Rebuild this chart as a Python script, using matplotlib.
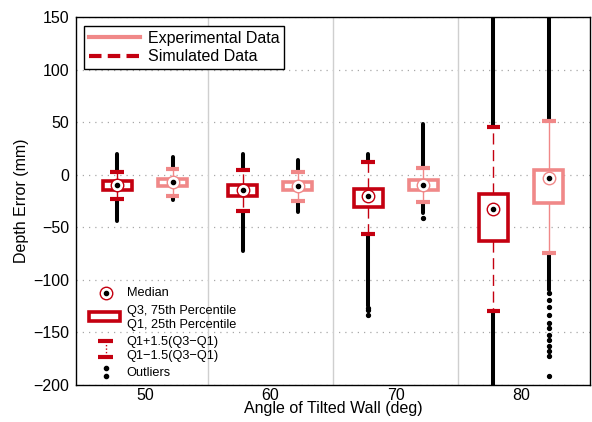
import matplotlib.pyplot as plt
from matplotlib.lines import Line2D
from matplotlib.patches import Rectangle

plt.rcParams['font.family'] = ['Liberation Sans', 'DejaVu Sans']

angles = [50, 60, 70, 80]

# simulated data box statistics (mm)
sim_med = [-10.2, -14.9, -20.6, -32.4]
sim_q1 = [-14.3, -20.6, -31.1, -63.5]
sim_q3 = [-6.4, -10.2, -13.3, -18.4]
sim_whislo = [-22.8, -34.9, -56.4, -129.4]
sim_whishi = [2.6, 4.1, 11.7, 45.7]
# dense outlier runs (end values) and isolated outliers
sim_out_top = [20, 20, 20, 150]
sim_out_bot = [-44, -73, -125, -200]
sim_fliers = [[], [], [-127, -129, -133], []]

# experimental data box statistics (mm)
exp_med = [-7.0, -11.0, -10.2, -3.1]
exp_q1 = [-10.5, -15.0, -14.3, -27.0]
exp_q3 = [-3.8, -7.0, -4.8, 4.1]
exp_whislo = [-20.0, -24.7, -26.0, -74.5]
exp_whishi = [5.7, 2.6, 6.4, 50.7]
exp_out_top = [17, 14, 48, 150]
exp_out_bot = [-24.5, -35, -36.5, -110]
exp_fliers = [[], [], [-41], [-112.6, -119, -126, -133, -141, -146, -152,
                              -157, -163, -168, -172, -191]]

sim_color = '#c40010'
exp_color = '#f08888'

fig = plt.figure(figsize=(5.92, 4.22), dpi=100)
ax = fig.add_axes([0.1284, 0.0877, 0.8682, 0.872])

ax.set_xlim(44.5, 85.5)
ax.set_ylim(-200, 150)
ax.set_yticks(range(-200, 151, 50))
ax.set_xticks(angles)

for y in range(-200, 151, 50):
    ax.axhline(y, color='#a8a8a8', lw=0.9, ls=(0, (1, 4)), zorder=0)
for xs in [55, 65, 75]:
    ax.axvline(xs, color='#cfcfcf', lw=1.0, zorder=0)


def draw_group(pos, med, q1, q3, lo, hi, out_top, out_bot, fliers, color, ls):
    stats = []
    for i in range(len(pos)):
        stats.append(dict(med=med[i], q1=q1[i], q3=q3[i], whislo=lo[i],
                          whishi=hi[i], fliers=fliers[i]))
    # dense outlier runs
    ax.vlines(pos, hi, out_top, color='black', lw=2.9, zorder=2,
              capstyle='round')
    ax.vlines(pos, out_bot, lo, color='black', lw=2.9, zorder=2,
              capstyle='round')
    ax.bxp(stats, positions=pos, widths=2.3, patch_artist=True,
           showfliers=True, manage_ticks=False, capwidths=1.1,
           boxprops=dict(facecolor='white', edgecolor=color, lw=2.6),
           whiskerprops=dict(color=color, lw=1.0, ls=ls),
           capprops=dict(color=color, lw=3.0, solid_capstyle='butt'),
           medianprops=dict(lw=0),
           flierprops=dict(marker='o', markersize=2.8, markerfacecolor='black',
                           markeredgecolor='black'),
           zorder=3)
    ax.plot(pos, med, 'o', ms=9, mfc='white', mec=color, mew=1.0, zorder=5)
    ax.plot(pos, med, 'o', ms=3, color='black', zorder=6)


sim_pos = [a - 2.2 for a in angles]
exp_pos = [a + 2.2 for a in angles]
draw_group(sim_pos, sim_med, sim_q1, sim_q3, sim_whislo, sim_whishi,
           sim_out_top, sim_out_bot, sim_fliers, sim_color, (0, (8, 4)))
draw_group(exp_pos, exp_med, exp_q1, exp_q3, exp_whislo, exp_whishi,
           exp_out_top, exp_out_bot, exp_fliers, exp_color, '-')

ax.tick_params(axis='y', labelsize=11.5, length=0, pad=5)
ax.tick_params(axis='x', labelsize=11.5, length=0, pad=2)
ax.set_xlabel('Angle of Tilted Wall (deg)', fontsize=11.5, labelpad=-1)
ax.set_ylabel('Depth Error (mm)', fontsize=11.5, labelpad=3)
for s in ax.spines.values():
    s.set_linewidth(1.0)

# legend for data series
handles = [Line2D([], [], color=exp_color, lw=3),
           Line2D([], [], color=sim_color, lw=3, ls=(0, (3, 1.5)))]
leg = ax.legend(handles, ['Experimental Data', 'Simulated Data'],
                loc='upper left', bbox_to_anchor=(0.015, 0.975),
                fontsize=11.5, fancybox=False, framealpha=1,
                edgecolor='black', handlelength=3.2, handletextpad=0.5,
                borderpad=0.3, labelspacing=0.2, borderaxespad=0)
leg.get_frame().set_linewidth(1.0)

# legend explaining box-plot symbols
tr = ax.transAxes
fs = 9.2
ax.plot([0.0578], [0.2508], 'o', ms=9, mfc='white', mec=sim_color, mew=1.0,
        transform=tr)
ax.plot([0.0578], [0.2508], 'o', ms=3, color='black', transform=tr)
ax.text(0.0986, 0.2508, 'Median', fontsize=fs, va='center', transform=tr)
ax.add_patch(Rectangle((0.0259, 0.1739), 0.0597, 0.0253, fill=False,
                       edgecolor=sim_color, lw=2.6, transform=tr))
ax.text(0.0986, 0.2000, 'Q3, 75th Percentile', fontsize=fs, va='center',
        transform=tr)
ax.text(0.0986, 0.1630, 'Q1, 25th Percentile', fontsize=fs, va='center',
        transform=tr)
ax.plot([0.0578, 0.0578], [0.1204, 0.0769], color=sim_color, lw=1.0,
        ls=(0, (1, 1.5)), transform=tr)
for yy in [0.1204, 0.0769]:
    ax.plot([0.0434, 0.0726], [yy, yy], color=sim_color, lw=3.0,
            solid_capstyle='butt', transform=tr)
ax.text(0.0986, 0.1177, 'Q1+1.5(Q3\u2212Q1)', fontsize=fs, va='center',
        transform=tr)
ax.text(0.0986, 0.0800, 'Q1\u22121.5(Q3\u2212Q1)', fontsize=fs, va='center',
        transform=tr)
ax.plot([0.0578, 0.0578], [0.0454, 0.0245], 'o', ms=3, color='black',
        transform=tr)
ax.text(0.0986, 0.0334, 'Outliers', fontsize=fs, va='center', transform=tr)

fig.savefig('out.png', dpi=100)
